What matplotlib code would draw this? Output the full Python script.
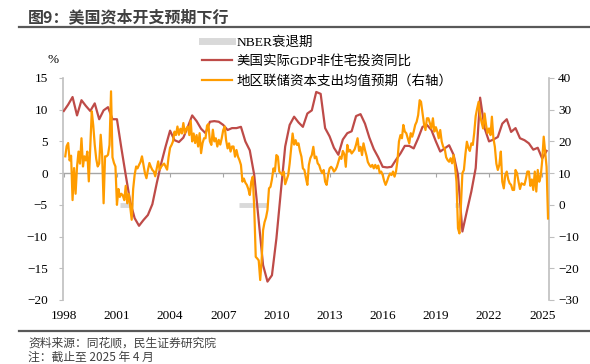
import matplotlib
matplotlib.use("Agg")
import matplotlib.pyplot as plt
import matplotlib.dates as mdates
from matplotlib.lines import Line2D
from matplotlib.ticker import NullFormatter
import pandas as pd

plt.rcParams['font.family'] = ['Liberation Serif', 'Noto Sans CJK SC']

# 美国实际GDP非住宅投资同比(%), quarterly, 1997Q4 - 2025Q1
gdp_yoy = [
    9.8,
    10.8, 12.0, 9.1, 11.5,
    10.6, 9.8, 11.0, 8.5,
    9.9, 10.4, 8.5, 8.5,
    4.0, -0.3, -4.5, -7.1,
    -8.3, -7.4, -6.6, -4.9,
    -1.6, 1.5, 4.2, 6.7,
    5.2, 4.9, 5.6, 7.3,
    9.1, 8.2, 7.0, 6.3,
    8.1, 8.2, 8.1, 7.6,
    6.8, 7.1, 7.1, 7.3,
    5.0, 3.6, -0.3, -7.5,
    -14.5, -17.1, -16.1, -10.3,
    -3.0, 4.2, 7.6, 8.9,
    8.0, 7.3, 9.4, 9.9,
    12.8, 12.5, 7.1, 5.8,
    4.0, 2.9, 5.3, 6.3,
    6.6, 9.0, 9.3, 7.8,
    5.6, 3.8, 2.5, 1.0,
    0.9, 1.0, 2.1, 3.1,
    4.3, 4.3, 3.9, 5.5,
    7.3, 7.6, 6.8, 5.0,
    3.4, 3.9, 4.4, 2.9,
    -0.3, -9.2, -6.0, -2.9,
    0.8, 11.9, 7.1, 5.0,
    5.3, 5.7, 7.8, 8.5,
    6.5, 7.1, 5.5, 5.2,
    4.7, 3.7, 4.0, 2.3,
    3.5,
]

# 地区联储资本支出均值预期(右轴), monthly, 1998-01 - 2025-04
capex_exp = [
    15.3, 18.5, 19.5, 14.0, 15.5, 1.5, 11.6, 3.5, 12.0, 16.8, 13.0, 21.0,     # 1998
    12.1, 15.3, 14.0, 16.8, 7.4, 18.0, 29.5, 25.0, 19.0, 14.5, 12.1, 13.0,    # 1999
    22.1, 16.0, 0.5, 15.3, 15.3, 15.8, 18.9, 35.8, 15.0, 13.2, 12.1, 0.0,     # 2000
    5.0, 2.5, 3.5, 3.0, 1.5, 6.0, 0.5, 3.5, -0.5, -4.7, 5.0, 9.5,             # 2001
    12.1, 11.5, 12.6, 13.5, 15.3, 12.6, 10.0, 8.4, 11.0, 13.2, 12.0, 11.0,    # 2002
    10.5, 9.0, 11.5, 13.7, 11.1, 12.0, 12.6, 13.0, 12.1, 11.1, 15.0, 18.0,    # 2003
    18.9, 20.0, 23.1, 22.0, 24.7, 22.1, 24.0, 22.5, 25.8, 22.6, 24.0, 24.7,   # 2004
    22.0, 26.5, 20.0, 22.5, 19.5, 22.0, 18.4, 22.6, 16.3, 19.5, 21.0, 21.0,   # 2005
    25.0, 25.5, 20.0, 18.9, 23.7, 20.0, 21.0, 18.4, 20.5, 19.0, 21.0, 23.6,   # 2006
    24.7, 20.4, 17.8, 19.4, 16.8, 18.4, 18.4, 15.2, 17.3, 15.2, 14.1, 12.6,   # 2007
    7.3, 8.3, 7.0, 6.3, 5.0, 3.1, 7.3, 8.9, -1.0, -16.4, -16.9, -17.5,        # 2008
    -23.7, -17.9, -8.0, -5.5, -4.0, -1.6, 5.2, 5.7, 8.0, 11.5, 10.5, 15.7,    # 2009
    15.2, 10.5, 10.0, 9.4, 10.5, 6.5, 7.9, 9.4, 13.0, 18.0, 22.5, 19.0,       # 2010
    20.4, 18.9, 19.4, 17.0, 15.2, 11.5, 11.0, 8.5, 6.3, 12.6, 14.7, 15.7,     # 2011
    18.3, 14.7, 15.2, 13.1, 12.5, 11.0, 10.0, 11.0, 7.3, 6.3, 9.4, 11.5,      # 2012
    12.0, 11.5, 10.5, 11.0, 12.0, 13.6, 15.2, 14.5, 17.0, 16.0, 12.0, 18.9,   # 2013
    16.8, 17.3, 16.2, 16.8, 17.5, 19.0, 21.0, 17.0, 18.3, 15.7, 19.4, 17.3,   # 2014
    15.5, 13.5, 12.6, 12.0, 12.6, 11.5, 12.6, 11.5, 12.4, 10.0, 10.5, 9.4,    # 2015
    7.5, 6.3, 7.5, 8.9, 9.9, 9.4, 10.5, 8.9, 10.5, 14.0, 20.0, 22.0,          # 2016
    21.0, 25.2, 23.1, 22.6, 21.0, 19.4, 22.6, 21.5, 23.1, 25.2, 26.2, 28.3,   # 2017
    33.0, 32.5, 29.0, 25.5, 23.6, 27.3, 27.3, 25.7, 24.1, 27.3, 23.1, 24.5,   # 2018
    23.0, 21.0, 23.6, 20.0, 18.3, 17.8, 15.0, 14.1, 13.6, 14.7, 13.1, 15.7,   # 2019
    12.0, 7.3, -7.4, -9.0, 0.0, 10.0, 11.0, 16.0, 19.9, 18.0, 17.0, 19.4,     # 2020
    18.9, 22.6, 28.0, 30.4, 32.5, 28.3, 26.0, 24.1, 28.8, 25.2, 22.6, 24.1,   # 2021
    22.0, 27.8, 21.0, 18.3, 13.0, 11.0, 12.6, 16.8, 7.3, 5.2, 9.4, 10.5,      # 2022
    8.0, 6.8, 6.3, 4.7, 4.7, 11.0, 10.0, 7.3, 5.0, 6.8, 6.5, 6.3,             # 2023
    8.3, 10.5, 10.5, 6.0, 8.0, 4.7, 10.5, 4.2, 11.0, 7.3, 9.0, 14.0,          # 2024
    21.5, 17.0, 12.0, -4.3,                                                   # 2025
]

# NBER衰退期
rec_start = ['2001-03-01', '2007-12-01', '2020-02-01']
rec_end = ['2001-11-30', '2009-06-30', '2020-04-30']
rec_level = -5

gdp_dates = pd.date_range('1997-12-31', periods=len(gdp_yoy), freq='QE')
capex_dates = pd.date_range('1998-01-31', periods=len(capex_exp), freq='ME')

red = '#BE4B48'
orange = '#FF9C00'
grey_rec = '#D9D9D9'
spine_c = '#BFBFBF'

fig = plt.figure(figsize=(5.9, 3.64), dpi=100)
ax = fig.add_axes([63/590, 1-300/364, (549-63)/590, (300-78)/364])
ax2 = ax.twinx()

ax.hlines([rec_level]*len(rec_start), mdates.date2num(pd.to_datetime(rec_start)),
          mdates.date2num(pd.to_datetime(rec_end)), color=grey_rec, lw=3.5, zorder=1)
ax.axhline(0, color='#A6A6A6', lw=1, zorder=1)
ax.plot(gdp_dates, gdp_yoy, color=red, lw=1.6, zorder=3)
ax2.plot(capex_dates, capex_exp, color=orange, lw=1.6, zorder=3)

ax.set_xlim(pd.Timestamp('1997-12-15'), pd.Timestamp('2025-05-20'))
ax.set_ylim(-20, 15)
ax.set_yticks(range(-20, 16, 5))
ax2.set_ylim(-30, 40)
ax2.set_yticks(range(-30, 41, 10))

ax.xaxis.set_major_locator(mdates.YearLocator(3))
ax.xaxis.set_major_formatter(mdates.DateFormatter('%Y'))
ax.tick_params(axis='x', length=0, pad=7, labelsize=9.5)
ax.tick_params(axis='y', length=3, pad=8, labelsize=9.5, color=spine_c)
ax2.tick_params(axis='y', length=3.5, pad=3, labelsize=9.5, color=spine_c)

# small ticks sitting on the zero line
sec = ax.secondary_xaxis(20/35)
sec.xaxis.set_ticks_position('bottom')
sec.xaxis.set_major_locator(mdates.YearLocator(3))
sec.xaxis.set_major_formatter(NullFormatter())
sec.tick_params(length=3, color='#A6A6A6')
for s in sec.spines.values():
    s.set_visible(False)

for a in (ax, ax2):
    a.spines['top'].set_visible(False)
    a.spines['bottom'].set_visible(False)
ax.spines['right'].set_visible(False)
ax2.spines['left'].set_visible(False)
ax.spines['left'].set_color(spine_c)
ax2.spines['right'].set_color(spine_c)
ax.spines['left'].set_linewidth(1.2)
ax2.spines['right'].set_linewidth(1.2)

fig.text(53/590, 1-60/364, '%', ha='center', va='center', fontsize=9.5)

handles = [Line2D([], [], color=grey_rec, lw=5),
           Line2D([], [], color=red, lw=1.6),
           Line2D([], [], color=orange, lw=1.6)]
labels = ['NBER衰退期', '美国实际GDP非住宅投资同比', '地区联储资本支出均值预期（右轴）']
fig.legend(handles, labels, loc='upper left', bbox_to_anchor=(202/590, 1-36/364),
           frameon=False, borderaxespad=0, borderpad=0, handlelength=2.2,
           handletextpad=0.35, labelspacing=0.5, fontsize=9.7)

fig.text(28/590, 1-17/364, '图9：美国资本开支预期下行', ha='left', va='center',
         fontsize=11.5, fontweight='bold', color='#404040', family='Noto Sans CJK SC')
fig.add_artist(Line2D([19/590, 1], [1-27/364]*2, color='#595959', lw=1.6))
fig.add_artist(Line2D([19/590, 1], [1-331/364]*2, color='#595959', lw=1.6))
fig.text(28/590, 1-343/364, '资料来源：同花顺，民生证券研究院', ha='left', va='center',
         fontsize=8.5, color='#404040', family='Noto Sans CJK SC')
fig.text(28/590, 1-357.5/364, '注：截止至 2025 年 4 月', ha='left', va='center',
         fontsize=8.5, color='#404040', family='Noto Sans CJK SC')

fig.savefig('out.png', dpi=100)
plt.close(fig)
